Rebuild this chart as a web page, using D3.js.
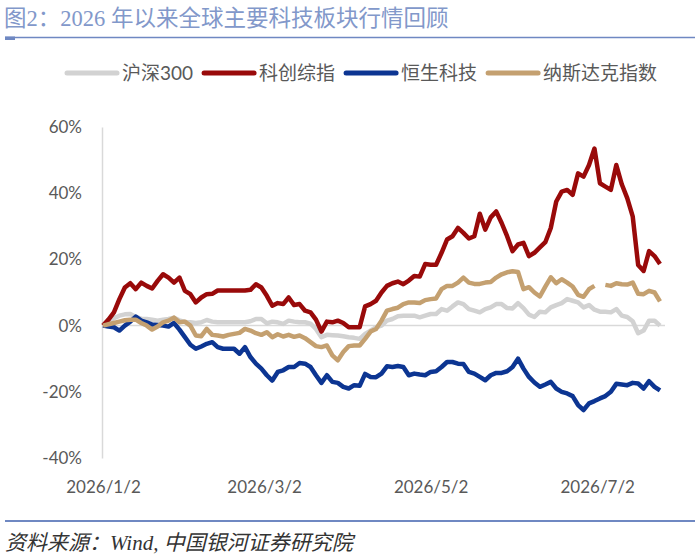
<!DOCTYPE html>
<html>
<head>
<meta charset="utf-8">
<script src="https://cdn.jsdelivr.net/npm/d3@7/dist/d3.min.js"></script>
<style>
  html, body { margin: 0; padding: 0; background: #fff; }
  svg { display: block; }
</style>
</head>
<body>
<svg id="chart" width="700" height="559"></svg>
<script>
// ---------------- DATA ----------------
const titleText = "图2：2026 年以来全球主要科技板块行情回顾";
const sourceText = "资料来源：Wind,  中国银河证券研究院";
const seriesNames = ["沪深300", "科创综指", "恒生科技", "纳斯达克指数"];
const seriesColors = ["#d2d2d2", "#990a0a", "#0c3592", "#c4a070"];

// observations every 2 calendar days starting 2026-01-02
const startDate = "2026-01-02";
const stepDays = 2;

const hs300 = [0,1.2,2.2,3.0,3.4,3.5,2.6,2.1,2.0,1.8,1.5,1.8,2.0,2.4,1.6,1.1,1.0,0.8,1.0,1.7,1.2,1.0,1.0,1.0,1.0,1.0,1.0,
  1.3,2.0,2.0,0.7,1.2,1.0,0.5,1.5,1.2,1.0,1.0,0.6,-1.0,-3.5,-2.8,-2.9,-3.0,-3.2,-3.5,-3.7,-4.0,-2.5,-1.5,-0.5,
  0.0,1.5,2.0,2.8,3.0,3.0,3.0,2.5,3.0,3.5,3.5,5.0,4.5,5.8,7.0,6.5,5.0,4.5,4.0,5.0,5.5,6.5,6.5,5.3,5.2,6.8,
  5.3,3.3,2.6,4.2,4.0,5.5,6.2,6.8,8.0,7.5,7.0,5.5,6.2,4.8,4.2,4.2,4.0,5.0,3.0,2.6,1.3,-2.3,-1.5,1.5,1.5,0.0];

const kechuang = [0,1.8,4.0,8.0,11.5,12.8,11.0,13.0,12.0,11.2,13.5,15.5,14.5,13.0,14.5,10.5,9.5,7.0,8.5,9.5,9.6,10.6,10.6,10.6,10.6,10.6,10.6,
  10.8,12.5,11.5,9.0,6.0,6.8,6.5,8.5,6.2,6.5,4.5,4.0,1.8,-1.8,1.2,1.0,1.5,0.8,-0.5,-0.5,-0.5,5.8,6.5,7.5,
  10.0,12.0,12.8,13.3,12.5,13.6,15.0,14.8,18.6,18.4,18.4,22.0,26.0,27.0,29.5,28.0,26.3,27.0,33.8,29.0,32.7,34.5,31.0,27.0,22.5,24.5,
  25.0,21.0,22.0,23.6,25.2,29.5,37.5,40.5,41.0,39.5,46.0,45.0,48.5,53.5,43.0,42.0,41.0,48.5,42.7,38.5,33.0,18.3,16.5,22.5,21.0,18.6];

const hstech = [0,-0.3,-0.5,-1.5,0,1.2,2.7,1.5,1.0,0.3,0.2,0,-0.3,0.8,-1.2,-3.5,-5.8,-7.0,-6.3,-5.5,-5.0,-6.5,-7.0,-7.0,-7.0,-8.5,-6.5,
  -9.5,-11.5,-13.0,-15.0,-16.6,-14.0,-13.5,-12.5,-12.5,-11.3,-11.5,-12.5,-15.0,-17.3,-15.0,-17.0,-17.3,-18.5,-19.0,-18.0,-18.2,-14.6,-15.5,-15.6,
  -14.5,-12.3,-12.5,-12.2,-12.5,-15.0,-14.5,-14.8,-15.0,-14.0,-13.8,-12.5,-11.0,-11.0,-11.5,-11.6,-14.0,-14.5,-15.5,-16.5,-15.0,-14.3,-14.3,-13.8,-12.5,-10.0,
  -13.0,-15.5,-17.2,-18.5,-17.8,-17.0,-19.0,-20.0,-20.5,-21.3,-24.0,-25.5,-23.5,-22.8,-22.0,-21.3,-20.0,-17.6,-17.8,-18.0,-17.3,-17.5,-19.0,-16.8,-18.5,-19.6];

const nasdaq = [0,0.4,0.8,1.2,1.6,1.8,1.8,0.8,0,-1.2,-0.3,1.0,1.5,2.4,1.0,1.2,0.0,-3.0,-3.2,-1.0,-2.8,-3.0,-3.3,-2.8,-2.5,-2.2,-1.0,
  -1.5,-2.3,-2.8,-2.0,-3.5,-2.6,-3.3,-2.8,-3.4,-3.0,-3.8,-5.0,-6.2,-6.5,-6.0,-9.0,-10.5,-8.0,-6.2,-6.0,-6.0,-4.0,-1.8,-1.0,
  1.5,4.5,5.0,5.4,6.5,7.0,7.0,6.8,7.7,8.0,8.2,11.0,12.0,12.0,13.0,14.5,13.0,12.6,12.6,13.0,13.2,14.5,15.5,16.1,16.4,16.2,
  11.0,11.6,10.0,8.8,11.8,14.6,12.8,14.0,13.0,11.8,9.3,8.7,11.0,12.0,null,12.3,12.0,12.8,12.5,12.4,13.0,9.6,9.5,10.5,10.0,7.3];

const seriesValues = [hs300, kechuang, hstech, nasdaq];

const yTicks = [-40, -20, 0, 20, 40, 60];
const xTickLabels = ["2026/1/2", "2026/3/2", "2026/5/2", "2026/7/2"];
const xEndDate = "2026-07-25";

// ---------------- DRAW ----------------
const svg = d3.select("#chart");
const parseISO = d3.timeParse("%Y-%m-%d");
const parseTick = d3.timeParse("%Y/%-m/%-d");
const t0 = parseISO(startDate);
const dates = hs300.map((_, i) => d3.timeDay.offset(t0, i * stepDays));

const x = d3.scaleTime().domain([t0, parseISO(xEndDate)]).range([103, 660]);
const y = d3.scaleLinear().domain([-40, 60]).range([458, 127]);

const numFont = "Lato, 'Noto Sans CJK SC', sans-serif";

// Title
svg.append("text")
  .attr("x", 4).attr("y", 26)
  .attr("font-family", "'Liberation Serif', 'Noto Sans CJK SC', serif")
  .attr("font-size", 22.5)
  .attr("fill", "#8298ca")
  .text(titleText);
svg.append("line")
  .attr("x1", 5).attr("x2", 695).attr("y1", 37.5).attr("y2", 37.5)
  .attr("stroke", "#6f88c2").attr("stroke-width", 1.6);
svg.append("rect")
  .attr("x", 5).attr("y", 36.5).attr("width", 10).attr("height", 3.5)
  .attr("fill", "#6f88c2");

// Legend
let lx = 65;
const ly = 73;
seriesNames.forEach((name, i) => {
  svg.append("line")
    .attr("x1", lx + 2).attr("x2", lx + 52).attr("y1", ly).attr("y2", ly)
    .attr("stroke", seriesColors[i]).attr("stroke-width", 5).attr("stroke-linecap", "round");
  const t = svg.append("text")
    .attr("x", lx + 57).attr("y", ly + 7)
    .attr("font-family", numFont)
    .attr("font-size", 19)
    .attr("fill", "#595959")
    .text(name);
  lx += 57 + t.node().getComputedTextLength() + 9;
});

// zero line
svg.append("line")
  .attr("x1", x.range()[0]).attr("x2", 665)
  .attr("y1", y(0)).attr("y2", y(0))
  .attr("stroke", "#d9d9d9").attr("stroke-width", 1.5);

// Y axis
const yAxis = svg.append("g")
  .attr("transform", `translate(${x.range()[0] - 1},0)`)
  .call(d3.axisLeft(y).tickValues(yTicks).tickSize(0).tickPadding(20).tickFormat(d => d + "%"));
yAxis.select(".domain").attr("stroke", "#d9d9d9").attr("stroke-width", 1.5);
yAxis.selectAll("text")
  .attr("font-family", numFont).attr("font-size", 17).attr("fill", "#595959");

// X axis labels
const xAxis = svg.append("g")
  .attr("transform", `translate(0,478)`)
  .call(d3.axisBottom(x).tickValues(xTickLabels.map(parseTick)).tickSize(0).tickPadding(3)
    .tickFormat(d3.timeFormat("%Y/%-m/%-d")));
xAxis.select(".domain").remove();
xAxis.selectAll("text")
  .attr("font-family", numFont).attr("font-size", 17).attr("fill", "#595959");

// Lines
const line = d3.line()
  .defined(d => d.v !== null)
  .x(d => x(d.date))
  .y(d => y(d.v))
  .curve(d3.curveLinear);

seriesValues.forEach((vals, i) => {
  const data = vals.map((v, j) => ({ date: dates[j], v }));
  svg.append("path")
    .datum(data)
    .attr("fill", "none")
    .attr("stroke", seriesColors[i])
    .attr("stroke-width", 4.5)
    .attr("stroke-linejoin", "round")
    .attr("stroke-linecap", "butt")
    .attr("d", line);
});

// Bottom separator + source
svg.append("line")
  .attr("x1", 5).attr("x2", 695).attr("y1", 521).attr("y2", 521)
  .attr("stroke", "#6f88c2").attr("stroke-width", 2.2);
svg.append("text")
  .attr("x", 5).attr("y", 550)
  .attr("font-family", "'Liberation Serif', 'Noto Sans CJK SC', serif")
  .attr("font-style", "italic")
  .attr("font-size", 21)
  .attr("fill", "#333333")
  .text(sourceText);
</script>
</body>
</html>
